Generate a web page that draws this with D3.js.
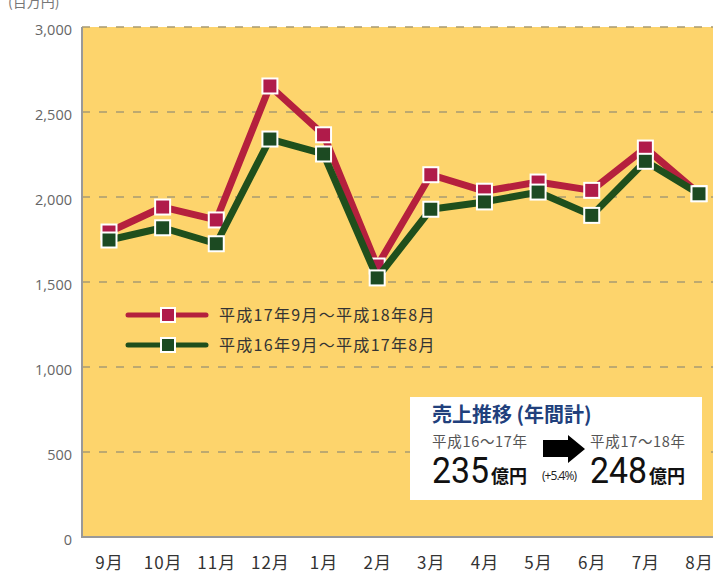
<!DOCTYPE html>
<html>
<head>
<meta charset="utf-8">
<script src="https://cdn.jsdelivr.net/npm/d3@7"></script>
<style>
  body { margin: 0; background: #fff; }
  svg { display: block; }
</style>
</head>
<body>
<div id="chart"></div>
<script>
// months on the x axis
var months = ["9月", "10月", "11月", "12月", "1月", "2月", "3月", "4月", "5月", "6月", "7月", "8月"];
// sales, millions of yen
var salesH17 = [1794, 1941, 1865, 2653, 2366, 1594, 2131, 2034, 2088, 2039, 2288, 2020];
var salesH16 = [1747, 1819, 1725, 2341, 2253, 1524, 1928, 1971, 2029, 1892, 2210, 2019];
var seriesNames = ["平成17年9月～平成18年8月", "平成16年9月～平成17年8月"];
var yTicks = [0, 500, 1000, 1500, 2000, 2500, 3000];

drawChart();

function drawChart() {
  var svg = d3.select("#chart")
              .append("svg")
              .attr("width", 713)
              .attr("height", 574);

  var jp = "'Noto Sans CJK JP', sans-serif";
  var plot = {left: 82, top: 27, right: 713, bottom: 537};

  var x = d3.scalePoint().domain(months).range([109, 699]);
  var y = d3.scaleLinear().domain([0, 3000]).range([plot.bottom, plot.top]);

  // unit label, partly cut off at the top as in the source image
  svg.append("text")
    .attr("x", 8).attr("y", 7)
    .attr("font-family", jp).attr("font-size", "14px")
    .attr("fill", "#777")
    .text("(百万円)");

  // yellow plot background
  svg.append("rect")
    .attr("x", plot.left).attr("y", plot.top)
    .attr("width", plot.right - plot.left)
    .attr("height", plot.bottom - plot.top)
    .attr("fill", "#fdd46c");

  // dashed gridlines
  svg.selectAll(".grid")
    .data(yTicks.filter(function(d){ return d > 0; }))
    .enter()
    .append("line")
    .attr("x1", plot.left).attr("x2", plot.right)
    .attr("y1", function(d){ return y(d); })
    .attr("y2", function(d){ return y(d); })
    .attr("stroke", "#a89a72")
    .attr("stroke-width", 1.3)
    .attr("stroke-dasharray", "8,9");

  // left axis
  var yAxis = svg.append("g")
    .attr("transform", "translate(" + plot.left + ",0)")
    .call(d3.axisLeft(y).tickValues(yTicks).tickSize(0).tickPadding(10).tickFormat(d3.format(",")));
  yAxis.select(".domain").remove();
  yAxis.selectAll("text")
    .attr("font-family", "'Open Sans', sans-serif")
    .attr("font-size", "14.5px")
    .attr("fill", "#666")
    .attr("dy", "0.55em");

  svg.append("line")
    .attr("x1", plot.left).attr("x2", plot.left)
    .attr("y1", plot.top).attr("y2", plot.bottom)
    .attr("stroke", "#999").attr("stroke-width", 2);
  svg.append("line")
    .attr("x1", plot.left - 1).attr("x2", plot.right)
    .attr("y1", plot.bottom).attr("y2", plot.bottom)
    .attr("stroke", "#999").attr("stroke-width", 2);

  // bottom axis
  var xAxis = svg.append("g")
    .attr("transform", "translate(0," + plot.bottom + ")")
    .call(d3.axisBottom(x).tickSize(0).tickPadding(20));
  xAxis.select(".domain").remove();
  xAxis.selectAll("text")
    .attr("font-family", jp)
    .attr("font-size", "17px")
    .attr("letter-spacing", "1px")
    .attr("fill", "#333");

  var series = [
    {name: seriesNames[0], values: salesH17, line: "#b5203d", mark: "#b01b4a"},
    {name: seriesNames[1], values: salesH16, line: "#1f4f1c", mark: "#1c4a22"}
  ];

  var line = d3.line()
    .x(function(d, i){ return x(months[i]); })
    .y(function(d){ return y(d); });

  var ms = 15;
  series.forEach(function(s) {
    svg.append("path")
      .datum(s.values)
      .attr("d", line)
      .attr("fill", "none")
      .attr("stroke", s.line)
      .attr("stroke-width", 7)
      .attr("stroke-linejoin", "round");

    svg.selectAll(null)
      .data(s.values)
      .enter()
      .append("rect")
      .attr("x", function(d, i){ return x(months[i]) - ms / 2; })
      .attr("y", function(d){ return y(d) - ms / 2; })
      .attr("width", ms).attr("height", ms)
      .attr("fill", s.mark)
      .attr("stroke", "#fff")
      .attr("stroke-width", 2);
  });

  // legend
  var legend = svg.selectAll(".legend")
    .data(series)
    .enter()
    .append("g")
    .attr("transform", function(d, i){ return "translate(128," + (315 + i * 30) + ")"; });
  legend.append("line")
    .attr("x1", 0).attr("x2", 78)
    .attr("stroke", function(d){ return d.line; })
    .attr("stroke-width", 5)
    .attr("stroke-linecap", "round");
  legend.append("rect")
    .attr("x", 33).attr("y", -7)
    .attr("width", 14).attr("height", 14)
    .attr("fill", function(d){ return d.mark; })
    .attr("stroke", "#fff").attr("stroke-width", 2);
  legend.append("text")
    .attr("x", 91).attr("y", 0)
    .attr("dy", "0.35em")
    .attr("font-family", jp).attr("font-size", "16px")
    .attr("letter-spacing", "1.3px")
    .attr("fill", "#333")
    .text(function(d){ return d.name; });

  // annual total box
  var box = svg.append("g").attr("transform", "translate(410,397)");
  box.append("rect")
    .attr("width", 292).attr("height", 103)
    .attr("fill", "#fff");
  box.append("text")
    .attr("x", 22).attr("y", 25)
    .attr("font-family", jp).attr("font-size", "20px").attr("font-weight", "bold")
    .attr("fill", "#21407c")
    .text("売上推移 (年間計)");

  var totals = [
    {period: "平成16～17年", value: "235", x: 22},
    {period: "平成17～18年", value: "248", x: 180}
  ];
  totals.forEach(function(t) {
    box.append("text")
      .attr("x", t.x).attr("y", 50)
      .attr("font-family", jp).attr("font-size", "14.5px")
      .attr("letter-spacing", "0.7px")
      .attr("fill", "#555")
      .text(t.period);
    box.append("text")
      .attr("x", t.x).attr("y", 86)
      .attr("font-family", "Roboto, sans-serif")
      .attr("font-size", "37px")
      .attr("textLength", 57)
      .attr("lengthAdjust", "spacingAndGlyphs")
      .attr("fill", "#111")
      .text(t.value);
    box.append("text")
      .attr("x", t.x + 59).attr("y", 86)
      .attr("font-family", jp).attr("font-weight", "bold")
      .attr("font-size", "18px")
      .attr("fill", "#111")
      .text("億円");
  });

  box.append("text")
    .attr("x", 132).attr("y", 83)
    .attr("font-family", "'Open Sans', sans-serif").attr("font-size", "12px")
    .attr("textLength", 35)
    .attr("fill", "#222")
    .text("(+5.4%)");

  // arrow
  box.append("path")
    .attr("d", "M133,43 L158,43 L158,38 L175,52 L158,66 L158,60 L133,60 Z")
    .attr("fill", "#000");
}
</script>
</body>
</html>
